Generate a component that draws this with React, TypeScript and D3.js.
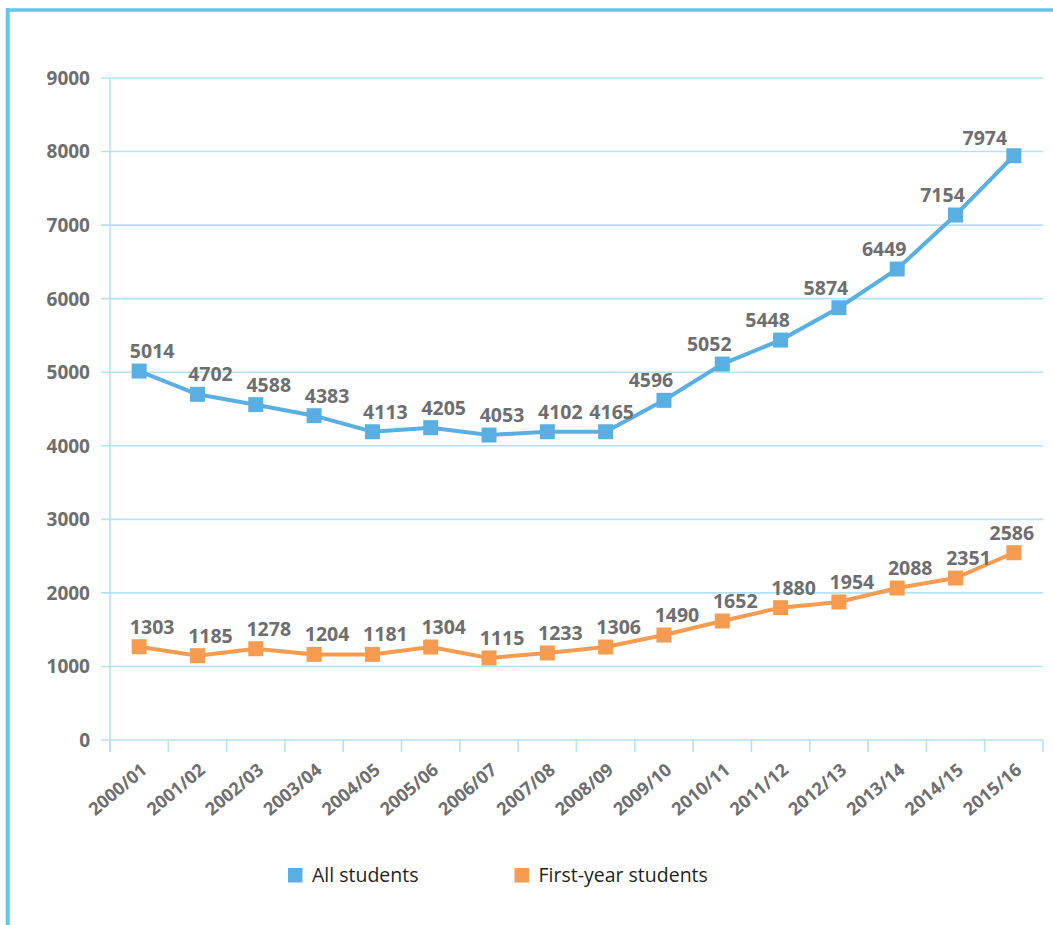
import React from "react"
import * as d3 from "d3"

const years = [
  "2000/01", "2001/02", "2002/03", "2003/04", "2004/05", "2005/06", "2006/07", "2007/08",
  "2008/09", "2009/10", "2010/11", "2011/12", "2012/13", "2013/14", "2014/15", "2015/16",
]

// printed labels
const allStudentsLabels = [5014, 4702, 4588, 4383, 4113, 4205, 4053, 4102, 4165, 4596, 5052, 5448, 5874, 6449, 7154, 7974]
const firstYearLabels = [1303, 1185, 1278, 1204, 1181, 1304, 1115, 1233, 1306, 1490, 1652, 1880, 1954, 2088, 2351, 2586]

// where the markers actually sit in the picture
const allStudents = [5016, 4700, 4559, 4409, 4191, 4246, 4146, 4191, 4191, 4618, 5111, 5437, 5877, 6403, 7137, 7943]
const firstYear = [1268, 1146, 1241, 1164, 1164, 1264, 1115, 1183, 1264, 1427, 1618, 1799, 1876, 2066, 2202, 2546]

const yTicks = [0, 1000, 2000, 3000, 4000, 5000, 6000, 7000, 8000, 9000]

const W = 1053
const H = 925
const margin = {left: 110, right: 10, top: 78, bottom: 185}

const BLUE = "#59afe1"
const ORANGE = "#f79b50"
const GRID = "#b3e2f2"
const FRAME = "#5fc8ea"
const TEXT = "#6d6e70"
const FONT = "'Open Sans', 'Noto Sans', sans-serif"

const App = () => {
  const x = d3.scaleBand<string>()
    .domain(years)
    .range([margin.left, W - margin.right])
  const y = d3.scaleLinear()
    .domain([0, 9000])
    .range([H - margin.bottom, margin.top])

  const cx = (i: number) => (x(years[i]) as number) + x.bandwidth() / 2
  const line = d3.line<number>()
    .x((_, i) => cx(i))
    .y(d => y(d))

  // label nudges, as in the original
  const blueDx = (i: number) => i === 15 ? -29 : i >= 9 ? -13 : i === 8 ? 6 : 13
  const orangeDx = (i: number) => i === 15 ? -2 : 13

  const series = [
    {name: "All students", values: allStudents, labels: allStudentsLabels, color: BLUE, dx: blueDx},
    {name: "First-year students", values: firstYear, labels: firstYearLabels, color: ORANGE, dx: orangeDx},
  ]

  const x0 = margin.left
  const x1 = W - margin.right
  const y0 = y(0)
  const ticksX = years.map((_, i) => margin.left + i * x.step()).concat([x1])

  return (
    <svg width={W} height={H} style={{position: "absolute", left: 0, top: 0, background: "#fff"}}>
      {/* frame */}
      <line x1={7.7} x2={7.7} y1={8} y2={H} stroke={FRAME} strokeWidth={4}/>
      <line x1={6} x2={W} y1={10} y2={10} stroke={FRAME} strokeWidth={3.5}/>

      {/* grid */}
      {yTicks.map(t => (
        <line key={t} x1={x0 - 9} x2={x1} y1={y(t)} y2={y(t)} stroke={GRID} strokeWidth={1.6}/>
      ))}
      <line x1={x0} x2={x0} y1={y(9000)} y2={y0 + 12} stroke={GRID} strokeWidth={1.6}/>
      {ticksX.map((tx, i) => (
        <line key={i} x1={tx} x2={tx} y1={y0} y2={y0 + 12} stroke={GRID} strokeWidth={1.6}/>
      ))}

      {/* y labels */}
      {yTicks.map(t => (
        <text key={t} x={90} y={y(t)} dy="0.36em" textAnchor="end" fontFamily={FONT}
              fontWeight={700} fontSize={19} fill={TEXT}>{t}</text>
      ))}

      {/* x labels */}
      {years.map((yr, i) => (
        <text key={yr} transform={`translate(${cx(i) + 9},${y0 + 32}) rotate(-40)`} textAnchor="end"
              fontFamily={FONT} fontWeight={700} fontSize={18} fill={TEXT}>{yr}</text>
      ))}

      {/* series */}
      {series.map(s => (
        <g key={s.name}>
          <path d={line(s.values) as string} fill="none" stroke={s.color} strokeWidth={4}/>
          {s.values.map((v, i) => (
            <rect key={i} x={cx(i) - 7.5} y={y(v) - 7.5} width={15} height={15} fill={s.color}/>
          ))}
          {s.values.map((v, i) => (
            <text key={"l" + i} x={cx(i) + s.dx(i)} y={y(v) - (i === 15 && s.color === BLUE ? 10.5 : 13)}
                  textAnchor="middle" fontFamily={FONT} fontWeight={700} fontSize={19.5} fill={TEXT}>
              {s.labels[i]}
            </text>
          ))}
        </g>
      ))}

      {/* legend */}
      {series.map((s, i) => {
        const lx = i === 0 ? 288 : 514.5
        return (
          <g key={s.name}>
            <rect x={lx} y={868} width={14.5} height={14.5} fill={s.color}/>
            <text x={lx + 24} y={882} fontFamily={FONT} fontSize={19.5} fill="#231f20">{s.name}</text>
          </g>
        )
      })}
    </svg>
  )
}

export default App
